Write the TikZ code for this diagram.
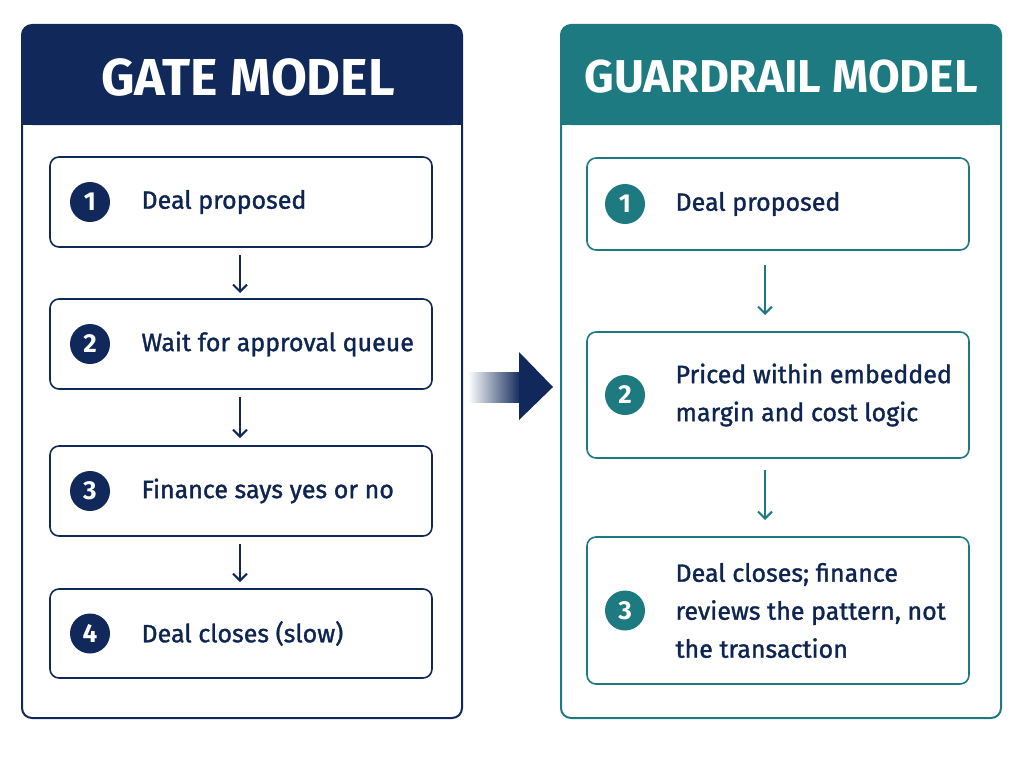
\documentclass[tikz,border=0pt]{standalone}
\usepackage{fontspec}
\setmainfont{Fira Sans}
\newfontfamily\medfont{Fira Sans}[FakeBold=1.3]
\usetikzlibrary{arrows.meta}
\definecolor{navy}{HTML}{10285A}
\definecolor{teal}{HTML}{1C7A80}
\begin{document}
\begin{tikzpicture}[x=1pt,y=-1pt,
 panel/.style={draw=#1,line width=2pt,rounded corners=10pt},
 step/.style={draw=#1,line width=1.6pt,rounded corners=9pt},
 num/.style={circle,fill=#1,minimum size=40pt,inner sep=0pt,text=white,font=\fontsize{26}{26}\selectfont\bfseries},
 lbl/.style={anchor=west,align=left,text=navy!90!black,font=\fontsize{25}{38}\medfont},
 title/.style={text=white,font=\fontsize{#1}{#1}\selectfont\bfseries},
 dn/.style={draw=#1,line width=2pt,-{Straight Barb[length=7pt,width=14pt]}}]
\useasboundingbox (0,0) rectangle (1024,768);
\fill[white] (0,0) rectangle (1024,768);
% left panel
\draw[panel=navy] (22,25) rectangle (462,718);
\fill[navy,rounded corners=10pt] (22,25) rectangle (462,125);
\fill[navy] (22,100) rectangle (462,125);
\node[title=52] (lt) at (248,77) {GATE MODEL};
\foreach \i/\ya/\yb/\t in {1/157/247/Deal proposed,2/299/389/Wait for approval queue,3/446/536/Finance says yes or no,4/589/678/Deal closes (slow)}{
 \draw[step=navy] (50,\ya) rectangle (432,\yb);
 \node[num=navy] (ln\i) at (90,{(\ya+\yb)/2}) {\i};
 \node[lbl] (lt\i) at (138,{(\ya+\yb)/2}) {\t};
 \coordinate (lb\i) at (240,\yb);
 \coordinate (la\i) at (240,\ya);
}
\draw[dn=navy] ([yshift=-8]lb1) -- ([yshift=6]la2);
\draw[dn=navy] ([yshift=-8]lb2) -- ([yshift=8]la3);
\draw[dn=navy] ([yshift=-8]lb3) -- ([yshift=7]la4);
% right panel
\draw[panel=teal] (561,25) rectangle (1001,718);
\fill[teal,rounded corners=10pt] (561,25) rectangle (1001,125);
\fill[teal] (561,100) rectangle (1001,125);
\node[title=46] (rt) at (781,77) {GUARDRAIL MODEL};
\foreach \i/\ya/\yb/\t in {1/158/250/Deal proposed,2/332/458/{Priced within embedded\\margin and cost logic},3/537/684/{Deal closes; finance\\reviews the pattern, not\\the transaction}}{
 \draw[step=teal] (587,\ya) rectangle (969,\yb);
 \node[num=teal] (rn\i) at (625,{(\ya+\yb)/2}) {\i};
 \node[lbl] (rt\i) at (672,{(\ya+\yb)/2}) {\t};
 \coordinate (rb\i) at (765,\yb);
 \coordinate (ra\i) at (765,\ya);
}
\draw[dn=teal] ([yshift=-15]rb1) -- ([yshift=17]ra2);
\draw[dn=teal] ([yshift=-12]rb2) -- ([yshift=17]ra3);
% middle arrow
\shade[left color=white,right color=navy] (468,372) rectangle (521,402);
\fill[navy] (519,352) -- (553,387) -- (519,420) -- cycle;
\end{tikzpicture}
\end{document}
